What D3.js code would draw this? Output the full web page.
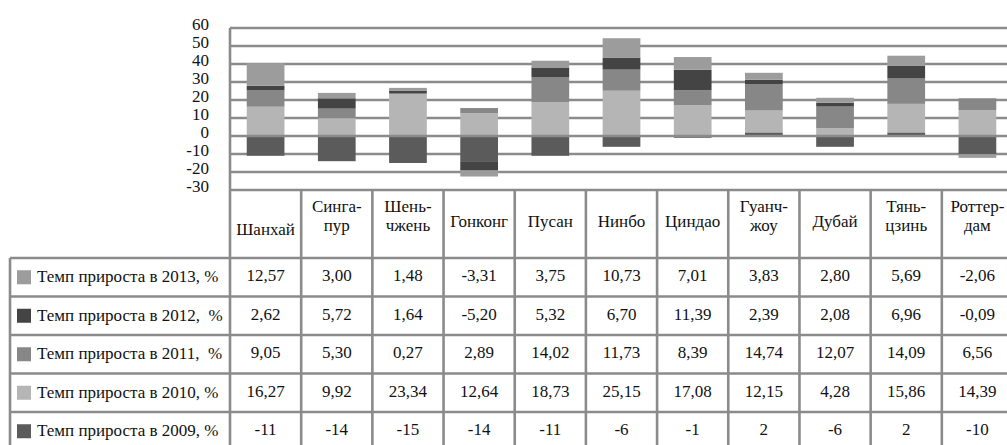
<!DOCTYPE html>
<html><head><meta charset="utf-8">
<script src="https://cdn.jsdelivr.net/npm/d3@7/dist/d3.min.js"></script>
<style>
html,body{margin:0;padding:0;background:#fff;}
svg{display:block;}
svg text{font-family:"Liberation Serif","Times New Roman","DejaVu Serif",serif;}
</style></head>
<body>
<svg id="chart" width="1007" height="445"></svg>
<script>
const categories = ["Шанхай","Сингапур","Шеньчжень","Гонконг","Пусан","Нинбо","Циндао","Гуанчжоу","Дубай","Тяньцзинь","Роттердам"];
const headerLines = [["Шанхай"],["Синга-","пур"],["Шень-","чжень"],["Гонконг"],["Пусан"],["Нинбо"],["Циндао"],["Гуанч-","жоу"],["Дубай"],["Тянь-","цзинь"],["Роттер-","дам"]];
const years = ["2009","2010","2011","2012","2013"];
const growth2009 = [-11,-14,-15,-14,-11,-6,-1,2,-6,2,-10];
const growth2010 = [16.27,9.92,23.34,12.64,18.73,25.15,17.08,12.15,4.28,15.86,14.39];
const growth2011 = [9.05,5.30,0.27,2.89,14.02,11.73,8.39,14.74,12.07,14.09,6.56];
const growth2012 = [2.62,5.72,1.64,-5.20,5.32,6.70,11.39,2.39,2.08,6.96,-0.09];
const growth2013 = [12.57,3.00,1.48,-3.31,3.75,10.73,7.01,3.83,2.80,5.69,-2.06];
const seriesLabels = {"2013":"Темп прироста в 2013, %","2012":"Темп прироста в 2012,  %","2011":"Темп прироста в 2011,  %","2010":"Темп прироста в 2010, %","2009":"Темп прироста в 2009, %"};
const yTicks = [60,50,40,30,20,10,0,-10,-20,-30];

const seriesVals = {"2009":growth2009,"2010":growth2010,"2011":growth2011,"2012":growth2012,"2013":growth2013};
const colors = {"2009":"#5b5b5b","2010":"#b5b5b5","2011":"#878787","2012":"#444444","2013":"#9c9c9c"};

const rows = categories.map((c,i)=>{const o={cat:c}; years.forEach(y=>o[y]=seriesVals[y][i]); return o;});

const FONT = "Liberation Serif, Times New Roman, DejaVu Serif, serif";
const svg = d3.select("#chart").attr("font-family", FONT);
const plotL = 230, plotR = 1013, plotT = 28, plotB = 190;
const x = d3.scaleBand().domain(categories).range([plotL, plotR]).paddingInner(0.47).paddingOuter(0.235);
const step = x.step();
const y = d3.scaleLinear().domain([-30,60]).range([plotB, plotT]);
const gridCol = "#8b8b8b";

// gridlines behind bars
svg.append("g").selectAll("line").data(yTicks.filter(d=>d!==0)).join("line")
  .attr("x1", plotL).attr("x2", plotR)
  .attr("y1", d=>y(d)).attr("y2", d=>y(d))
  .attr("stroke", gridCol).attr("stroke-width", 2.6);

// bars
const stack = d3.stack().keys(years).offset(d3.stackOffsetDiverging);
const stacked = stack(rows);
svg.append("g").selectAll("g").data(stacked).join("g")
  .attr("fill", d=>colors[d.key])
  .selectAll("rect").data(d=>d).join("rect")
  .attr("x", d=>x(d.data.cat))
  .attr("width", x.bandwidth())
  .attr("y", d=>y(Math.max(d[0],d[1])))
  .attr("height", d=>Math.abs(y(d[0])-y(d[1])));

// zero axis line over bars
svg.append("line").attr("x1",plotL).attr("x2",plotR).attr("y1",y(0)).attr("y2",y(0))
  .attr("stroke", gridCol).attr("stroke-width", 2.6);

// y axis labels
const yAxis = d3.axisLeft(y).tickValues(yTicks).tickSize(0).tickPadding(21).tickFormat(d=>String(d));
const ga = svg.append("g").attr("transform", `translate(${plotL},0)`).call(yAxis);
ga.attr("font-family", FONT);
ga.select(".domain").remove();
ga.selectAll("text").attr("font-size",17).attr("fill","#111").attr("dy","0.1em");

// table
const headerTop = plotB, headerBot = 258, rowH = 38.5;
const order = ["2013","2012","2011","2010","2009"];
const tableBot = headerBot + rowH*order.length;
const tg = svg.append("g");
d3.range(categories.length+1).forEach(i=>{
  const xx = plotL + i*step;
  tg.append("line").attr("x1",xx).attr("x2",xx).attr("y1", i===0?plotT:headerTop).attr("y2",tableBot)
    .attr("stroke",gridCol).attr("stroke-width",2.6);
});
tg.append("line").attr("x1",10).attr("x2",10).attr("y1",headerBot).attr("y2",tableBot).attr("stroke",gridCol).attr("stroke-width",2.6);
d3.range(order.length+1).forEach(i=>{
  const yy = headerBot + i*rowH;
  tg.append("line").attr("x1",10).attr("x2",plotR).attr("y1",yy).attr("y2",yy).attr("stroke",gridCol).attr("stroke-width",2.6);
});
categories.forEach((c,i)=>{
  const lines = headerLines[i];
  const cx = x(c) + x.bandwidth()/2;
  const t = tg.append("text").attr("text-anchor","middle").attr("font-size",17).attr("fill","#111");
  if(lines.length===1){
    t.append("tspan").attr("x",cx).attr("y", i===0?235:227).text(lines[0]);
  } else {
    lines.forEach((l,j)=>t.append("tspan").attr("x",cx).attr("y",212+j*19).text(l));
  }
});
const loc = d3.formatLocale({decimal:",",thousands:" ",grouping:[3],currency:["",""],minus:"-"});
const f2 = loc.format(".2f"), f0 = loc.format("d");
order.forEach((k,r)=>{
  const cy = headerBot + r*rowH + rowH/2;
  tg.append("rect").attr("x",17).attr("y",cy-7).attr("width",14).attr("height",14).attr("fill",colors[k]);
  tg.append("text").attr("x",37).attr("y",cy+5).attr("font-size",17).attr("fill","#111")
    .style("white-space","pre").text(seriesLabels[k]);
  categories.forEach((c,i)=>{
    const v = seriesVals[k][i];
    tg.append("text").attr("x", x(c)+x.bandwidth()/2).attr("y", cy+4).attr("text-anchor","middle")
      .attr("font-size",17).attr("fill","#111").text(k==="2009"?f0(v):f2(v));
  });
});
</script>
</body></html>
